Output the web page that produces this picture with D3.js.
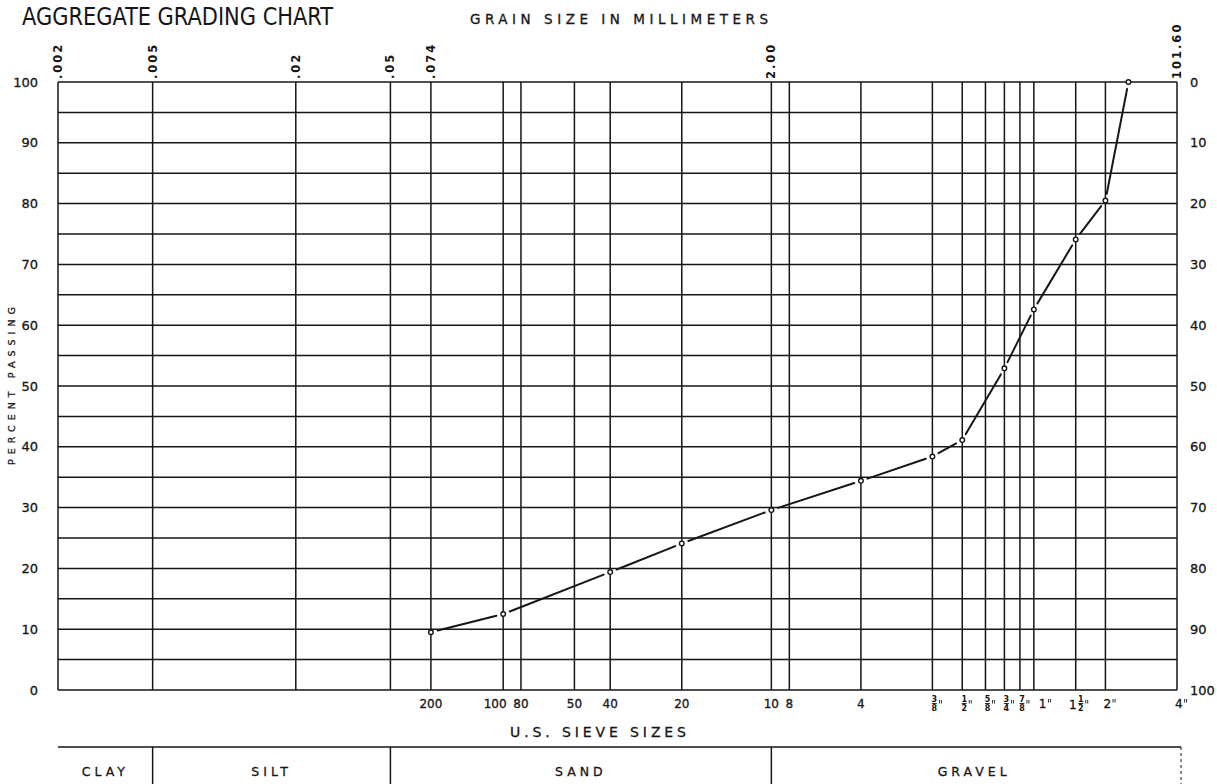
<!DOCTYPE html>
<html><head><meta charset="utf-8">
<script src="https://cdn.jsdelivr.net/npm/d3@7"></script>
<style>body{margin:0;background:#fff} svg{display:block}</style>
</head><body><svg id="c" width="1217" height="784"></svg>
<script>
// ---- data ----
const sieveSizesMM   = [0.074, 0.149, 0.42, 0.84, 2.0, 4.76, 9.51, 12.7, 19.1, 25.4, 38.1, 50.8, 63.5];
const percentPassing = [9.5, 12.5, 19.4, 24.1, 29.6, 34.4, 38.4, 41.1, 52.9, 62.6, 74.1, 80.5, 100];
const mmTickValues = [0.002, 0.005, 0.02, 0.05, 0.074, 2.00, 101.6];
const mmTickLabels = [".002", ".005", ".02", ".05", ".074", "2.00", "101.60"];
const sieveTickMM = [0.074, 0.149, 0.177, 0.297, 0.42, 0.84, 2.0, 2.38, 4.76, 9.51, 12.7, 15.9, 19.1, 22.2, 25.4, 38.1, 50.8, 101.6];
const sieveTickLabels = ["200", "100", "80", "50", "40", "20", "10", "8", "4", "3/8\"", "1/2\"", "5/8\"", "3/4\"", "7/8\"", "1\"", "1 1/2\"", "2\"", "4\""];
const percentTicks = [0, 10, 20, 30, 40, 50, 60, 70, 80, 90, 100];
const gridPercent = [0, 5, 10, 15, 20, 25, 30, 35, 40, 45, 50, 55, 60, 65, 70, 75, 80, 85, 90, 95, 100];
const soilClasses = ["CLAY", "SILT", "SAND", "GRAVEL"];
const soilBounds = [0.002, 0.005, 0.05, 2.0, 101.6];
const titleText = "AGGREGATE GRADING CHART";
const topTitle = "GRAIN SIZE IN MILLIMETERS";
const bottomTitle = "U.S. SIEVE SIZES";
const yTitle = "PERCENT PASSING";

// ---- drawing ----
const INK = "#161616";
const F = "'DejaVu Sans', sans-serif";
const svg = d3.select("#c");
svg.append("rect").attr("width", 1217).attr("height", 784).attr("fill", "#fff");

const x = d3.scaleLog().domain([0.002, 101.6]).range([58, 1177]);
const y = d3.scaleLinear().domain([0, 100]).range([690, 82]);
const yRet = d3.scaleLinear().domain([100, 0]).range([690, 82]);

// title
svg.append("text").attr("x", 22).attr("y", 25)
  .attr("font-family", "'Liberation Sans Narrow','DejaVu Sans Condensed',sans-serif")
  .attr("font-size", 25).attr("fill", INK)
  .attr("textLength", 311).attr("lengthAdjust", "spacingAndGlyphs")
  .text(titleText);

svg.append("text").attr("x", 470).attr("y", 24)
  .attr("font-family", F).attr("font-size", 13.5).attr("fill", INK)
  .attr("stroke", INK).attr("stroke-width", 0.3)
  .attr("textLength", 298).attr("lengthAdjust", "spacing")
  .text(topTitle);

// grid
const grid = svg.append("g").attr("stroke", INK).attr("stroke-width", 1.5).attr("fill", "none");
grid.selectAll("line.h").data(gridPercent).join("line")
  .attr("x1", x.range()[0]).attr("x2", x.range()[1])
  .attr("y1", d => y(d)).attr("y2", d => y(d));
const vLines = Array.from(new Set(mmTickValues.concat(sieveTickMM)));
grid.selectAll("line.v").data(vLines).join("line")
  .attr("x1", d => x(d)).attr("x2", d => x(d))
  .attr("y1", y(0)).attr("y2", y(100));

// top rotated mm labels
svg.append("g").selectAll("text").data(mmTickValues).join("text")
  .attr("transform", d => `translate(${x(d) + 4},79) rotate(-90)`)
  .attr("text-anchor", "start")
  .attr("font-family", F).attr("font-size", 11.5).attr("font-weight", "bold").attr("fill", INK)
  .attr("letter-spacing", 2)
  .text((d, i) => mmTickLabels[i]);

// left axis
const ax = svg.append("g").attr("transform", `translate(${x.range()[0]},0)`)
  .call(d3.axisLeft(y).tickValues(percentTicks).tickSize(0).tickPadding(20));
ax.select(".domain").remove();
ax.selectAll("text").attr("font-family", F).attr("font-size", 13).attr("fill", INK)
  .attr("stroke", INK).attr("stroke-width", 0.3);

// right axis
const ar = svg.append("g").attr("transform", `translate(${x.range()[1]},0)`)
  .call(d3.axisRight(yRet).tickValues(percentTicks).tickSize(0).tickPadding(13));
ar.select(".domain").remove();
ar.selectAll("text").attr("font-family", F).attr("font-size", 13).attr("fill", INK)
  .attr("stroke", INK).attr("stroke-width", 0.3);

// y title
svg.append("text").attr("transform", "translate(15,465) rotate(-90)")
  .attr("font-family", F).attr("font-size", 9.5).attr("fill", INK)
  .attr("stroke", INK).attr("stroke-width", 0.3)
  .attr("textLength", 158).attr("lengthAdjust", "spacing")
  .text(yTitle);

// sieve labels
const sl = svg.append("g").attr("font-family", F).attr("fill", INK);
function inchMark(cx, top) {
  sl.append("path").attr("d", `M${cx},${top}v3.5M${cx + 2},${top}v3.5`)
    .attr("stroke", INK).attr("stroke-width", 0.9).attr("fill", "none");
}
sieveTickMM.forEach((v, i) => {
  const lab = sieveTickLabels[i];
  let px = x(v);
  const prevGap = i > 0 ? px - x(sieveTickMM[i - 1]) : 99;
  const m = lab.match(/^(?:(\d+) )?(\d+)\/(\d+)"$/);
  if (m) {
    let cx = px + 2;
    if (m[1]) {
      sl.append("text").attr("x", cx - 1).attr("y", 709).attr("text-anchor", "end")
        .attr("font-size", 12).attr("stroke", INK).attr("stroke-width", 0.3).text(m[1]);
      cx += 3;
    }
    sl.append("text").attr("x", cx).attr("y", 702).attr("text-anchor", "middle").attr("font-size", 8).attr("font-weight", "bold").text(m[2]);
    sl.append("line").attr("x1", cx - 2.5).attr("x2", cx + 2.5).attr("y1", 703.5).attr("y2", 703.5).attr("stroke", INK).attr("stroke-width", 0.9);
    sl.append("text").attr("x", cx).attr("y", 711).attr("text-anchor", "middle").attr("font-size", 8).attr("font-weight", "bold").text(m[3]);
    inchMark(cx + 5, 700);
  } else if (lab.endsWith("\"")) {
    let sx = px - 2;
    if (prevGap < 16) sx = px + 5;
    const t = sl.append("text").attr("x", sx).attr("y", 708)
      .attr("font-size", 12).attr("stroke", INK).attr("stroke-width", 0.3).text(lab.slice(0, -1));
    const w = t.node().getComputedTextLength();
    inchMark(sx + w + 2, 699);
  } else {
    if (lab === "100") px -= 8;
    sl.append("text").attr("x", px).attr("y", 708).attr("text-anchor", "middle")
      .attr("font-size", 12).attr("stroke", INK).attr("stroke-width", 0.3).text(lab);
  }
});

svg.append("text").attr("x", 510).attr("y", 737)
  .attr("font-family", F).attr("font-size", 14).attr("fill", INK)
  .attr("stroke", INK).attr("stroke-width", 0.3)
  .attr("textLength", 176).attr("lengthAdjust", "spacing")
  .text(bottomTitle);

// classification table
const tb = svg.append("g").attr("stroke", INK).attr("stroke-width", 1.5);
tb.append("line").attr("x1", x(soilBounds[0])).attr("x2", x(soilBounds[4]) + 4)
  .attr("y1", 747).attr("y2", 747);
soilBounds.slice(1, 4).forEach(b => {
  tb.append("line").attr("x1", x(b)).attr("x2", x(b)).attr("y1", 747).attr("y2", 784);
});
tb.append("line").attr("x1", x(soilBounds[4]) + 4).attr("x2", x(soilBounds[4]) + 4)
  .attr("y1", 747).attr("y2", 784).attr("stroke-dasharray", "3,3").attr("stroke-width", 1);
svg.append("g").selectAll("text").data(soilClasses).join("text")
  .attr("x", (d, i) => (x(soilBounds[i]) + x(soilBounds[i + 1])) / 2)
  .attr("y", 776).attr("text-anchor", "middle")
  .attr("font-family", F).attr("font-size", 12.5).attr("letter-spacing", 4).attr("fill", INK)
  .attr("stroke", INK).attr("stroke-width", 0.3)
  .text(d => d);

// grading curve: segments with small gaps at the points
const pts = sieveSizesMM.map((s, i) => [x(s), y(percentPassing[i])]);
const gap = 7;
const cg = svg.append("g").attr("stroke", INK).attr("stroke-width", 2).attr("stroke-linecap", "round");
for (let i = 0; i < pts.length - 1; i++) {
  const [x0, y0] = pts[i], [x1, y1] = pts[i + 1];
  const L = Math.hypot(x1 - x0, y1 - y0), ux = (x1 - x0) / L, uy = (y1 - y0) / L;
  cg.append("line").attr("x1", x0 + ux * gap).attr("y1", y0 + uy * gap)
    .attr("x2", x1 - ux * gap).attr("y2", y1 - uy * gap);
}
svg.append("g").selectAll("circle").data(pts).join("circle")
  .attr("cx", d => d[0]).attr("cy", d => d[1]).attr("r", 2.3)
  .attr("fill", "#fff").attr("stroke", INK).attr("stroke-width", 1.4);
</script>
</body></html>
